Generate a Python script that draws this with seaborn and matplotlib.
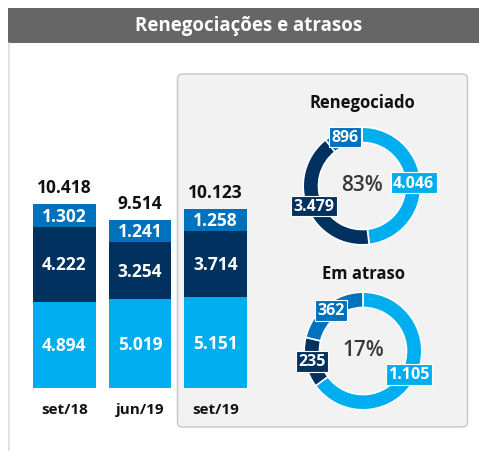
import matplotlib
matplotlib.use("Agg")
import matplotlib.pyplot as plt
import seaborn as sns
import pandas as pd
import numpy as np
from matplotlib.patches import FancyBboxPatch, Rectangle
from matplotlib.lines import Line2D

# ---- data ----
categories = ["set/18", "jun/19", "set/19"]
bottom_vals = [4894, 5019, 5151]
middle_vals = [4222, 3254, 3714]
top_vals = [1302, 1241, 1258]
totals = [10418, 9514, 10123]

reneg_labels = ["4.046", "3.479", "896"]
reneg_vals = [4046, 3479, 896]
reneg_pct = "83%"
atraso_labels = ["1.105", "235", "362"]
atraso_vals = [1105, 235, 362]
atraso_pct = "17%"

title = "Renegociações e atrasos"
donut_titles = ["Renegociado", "Em atraso"]

LIGHT = "#00AEEF"
NAVY = "#00315F"
MED = "#0071BC"

def fmt(v):
    return f"{v:,}".replace(",", ".")

sns.set_theme(style="white")
plt.rcParams["font.family"] = ["Open Sans", "DejaVu Sans"]

W, H = 479, 452
fig = plt.figure(figsize=(W / 100, H / 100), dpi=100)
fig.patch.set_facecolor("white")

def px_axes(cx, cy, w, h):
    return fig.add_axes([(cx - w / 2) / W, (H - cy - h / 2) / H, w / W, h / H])

# title bar
fig.patches.append(Rectangle((8 / W, (H - 44) / H), 1 - 8 / W, 35 / H,
                             transform=fig.transFigure, facecolor="#666666",
                             edgecolor="none", zorder=-2))
fig.text(249 / W, (H - 26.5) / H, title, color="white", fontsize=13.5,
         fontweight="bold", ha="center", va="center")
fig.lines.append(Line2D([8.5 / W, 8.5 / W], [0, (H - 44) / H],
                        transform=fig.transFigure, color="#DDDDDD", lw=1.2))

# gray panel
fig.patches.append(FancyBboxPatch((1.775, (H - 428) / 100), 2.9, 3.53,
                                  boxstyle="round,pad=0,rounding_size=0.05",
                                  transform=fig.dpi_scale_trans,
                                  facecolor="#F2F2F2", edgecolor="#C6C6C6",
                                  lw=1.0, zorder=-1))

# ---- stacked bars ----
ax = fig.add_axes([26.75 / W, (H - 389) / H, 226.5 / W, 219 / H])
ax.patch.set_alpha(0)
df = pd.DataFrame({"cat": categories,
                   "total": totals,
                   "lower2": np.array(bottom_vals) + np.array(middle_vals),
                   "lower": bottom_vals})
for col, c in [("total", MED), ("lower2", NAVY), ("lower", LIGHT)]:
    sns.barplot(data=df, x="cat", y=col, color=c, saturation=1, width=0.834,
                ax=ax, edgecolor="none")
ax.set_xlim(-0.5, 2.5)
ax.set_ylim(0, 12400)
ax.axis("off")
for i in range(len(categories)):
    b, m, t = bottom_vals[i], middle_vals[i], top_vals[i]
    kw = dict(ha="center", va="center", color="white", fontsize=12.5, fontweight="bold")
    ax.text(i, b / 2, fmt(b), **kw)
    ax.text(i, b + m / 2, fmt(m), **kw)
    ax.text(i, b + m + t / 2, fmt(t), **kw)
    ax.annotate(fmt(totals[i]), xy=(i, b + m + t), xytext=(0, 17),
                textcoords="offset pixels", ha="center", va="center",
                fontsize=12.5, fontweight="bold", color="#111111")
    ax.annotate(categories[i], xy=(i, 0), xytext=(0, -21),
                textcoords="offset pixels", ha="center", va="center",
                fontsize=11, fontweight="bold", color="#111111")

# ---- donuts ----
def donut(cx, cy, vals, labels, pct, ttl, ty):
    a = px_axes(cx, cy, 140, 140)
    a.patch.set_alpha(0)
    wedges, _ = a.pie(vals, colors=[LIGHT, NAVY, MED], startangle=90,
                      counterclock=False,
                      wedgeprops=dict(width=0.26, edgecolor="white", linewidth=1.2))
    a.set_xlim(-1.19, 1.19)
    a.set_ylim(-1.19, 1.19)
    a.set_aspect("equal")
    a.axis("off")
    for w, lab, col in zip(wedges, labels, [LIGHT, NAVY, MED]):
        ang = np.deg2rad((w.theta1 + w.theta2) / 2)
        r = 0.88
        a.text(r * np.cos(ang), r * np.sin(ang), lab, ha="center", va="center",
               color="white", fontsize=11.5, fontweight="bold",
               bbox=dict(boxstyle="square,pad=0.15", facecolor=col,
                         edgecolor="white", linewidth=0.8))
    a.text(0, 0.02, pct, ha="center", va="center", fontsize=15,
           color="#383838", fontweight="semibold")
    fig.text(cx / W, (H - ty) / H, ttl, ha="center", va="center",
             fontsize=12, fontweight="bold", color="#111111")

donut(362, 187, reneg_vals, reneg_labels, reneg_pct, donut_titles[0], 103)
donut(363, 352, atraso_vals, atraso_labels, atraso_pct, donut_titles[1], 274)

fig.savefig("out.png", dpi=100)
